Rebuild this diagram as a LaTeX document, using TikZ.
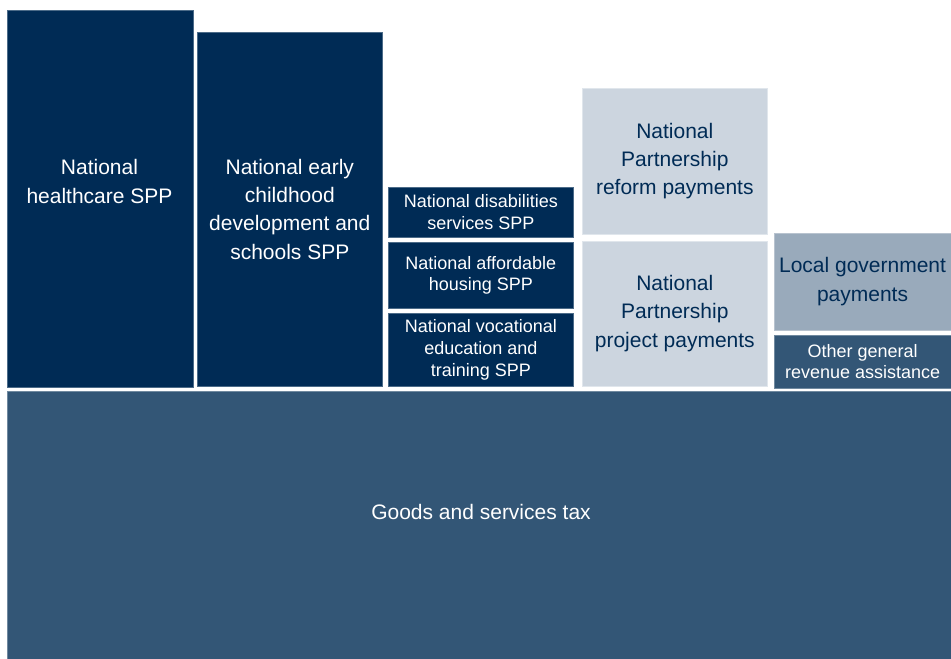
\documentclass[tikz,border=0pt]{standalone}
\usepackage{fontspec}
\setmainfont{Liberation Sans}
\usetikzlibrary{positioning}
\definecolor{navy}{RGB}{0,43,85}
\definecolor{steel}{RGB}{51,86,118}
\definecolor{pale}{RGB}{204,213,223}
\definecolor{slate}{RGB}{153,170,187}

\begin{document}
\begin{tikzpicture}[x=1pt,y=-1pt,node distance=4.5pt]
  \tikzset{
    box/.style={rectangle,anchor=north west,inner sep=1pt,align=center,
      line width=0.6pt},
    darkbox/.style={box,fill=navy,draw=navy!70!white,text=white},
    lightbox/.style={box,fill=pale,draw=pale!60!white,text=navy},
    midbox/.style={box,fill=slate,draw=slate!70!white,text=navy},
    gstbox/.style={box,fill=steel,draw=steel!70!white,text=white},
    big/.style={font=\fontsize{21}{28.3}\selectfont},
    small/.style={font=\fontsize{18}{21.7}\selectfont}
  }
  \useasboundingbox (0,0) rectangle (951,659);

  % specific purpose payments
  \node[darkbox,minimum width=185.5pt,minimum height=377pt] (hc) at (7,10) {};
  \node[big,text=white,align=center] (hc_t) at (99.5,181.5) {National\\healthcare SPP};
  \node[darkbox,big,minimum width=185pt,minimum height=354pt] (ecd) at (197,32)
    {National early\\childhood\\development and\\schools SPP};

  \node[darkbox,small,minimum width=185pt,minimum height=50pt] (dis) at (388,187)
    {National disabilities\\services SPP};
  \node[darkbox,small,minimum width=185pt,minimum height=66pt,below=of dis.south west,anchor=north west] (hous)
    {National affordable\\housing SPP};
  \node[darkbox,small,minimum width=185pt,minimum height=73.5pt,below=4pt of hous.south west,anchor=north west] (voc)
    {National vocational\\education and\\training SPP};

  % national partnership payments
  \node[lightbox,big,minimum width=185pt,minimum height=146.5pt] (npr) at (582,87.5)
    {National\\Partnership\\reform payments};
  \node[lightbox,big,minimum width=185pt,minimum height=145pt,below=6pt of npr.south west,anchor=north west] (npp)
    {National\\Partnership\\project payments};

  % general revenue assistance
  \node[midbox,big,minimum width=177.5pt,minimum height=97.5pt] (lgp) at (773.5,232.5)
    {Local government\\payments};
  \node[gstbox,small,minimum width=177.5pt,minimum height=53pt,below=4.3pt of lgp.south west,anchor=north west] (ogr)
    {Other general\\revenue assistance};

  \node[gstbox,minimum width=944pt,minimum height=268pt] (gst) at (7,391) {};
  \node[big,text=white] (gst_t) at (481,511.7) {Goods and services tax};
\end{tikzpicture}
\end{document}
